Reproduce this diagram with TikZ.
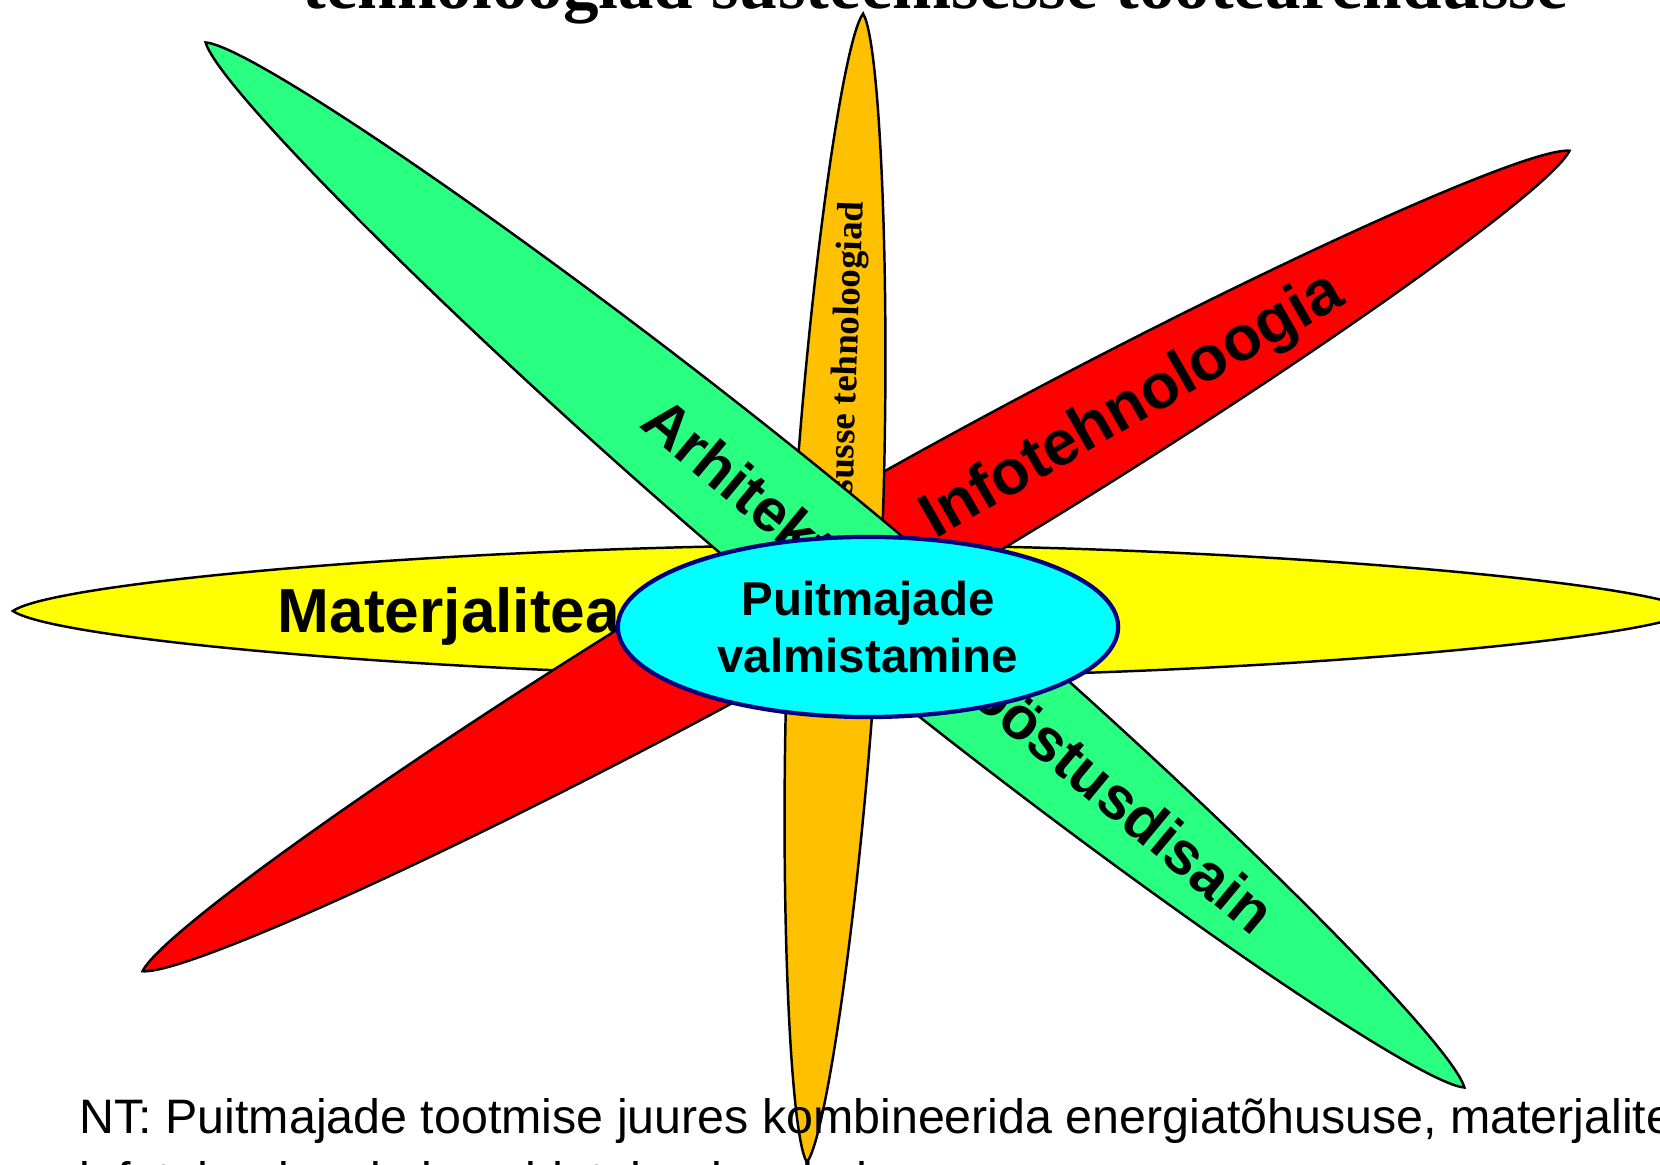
\documentclass[tikz,border=0pt]{standalone}
\usepackage{fontspec}
\setmainfont{Liberation Sans}
\newfontfamily\serifrm{Liberation Serif}
\usetikzlibrary{shapes.geometric}

\definecolor{leafyellow}{RGB}{255,255,0}
\definecolor{leafred}{RGB}{255,0,0}
\definecolor{leafgreen}{RGB}{41,255,128}
\definecolor{leaforange}{RGB}{255,192,0}
\definecolor{hubcyan}{RGB}{0,255,255}
\definecolor{hubnavy}{RGB}{0,0,128}

\tikzset{
  leaf/.style={draw=black,line width=0.7pt},
  leaflabel/.style={inner sep=0pt,font=\fontsize{17.7}{20}\selectfont\bfseries},
  hub/.style={ellipse,draw=hubnavy,line width=1.2pt,fill=hubcyan,inner sep=0pt,
    minimum width=5cm,minimum height=1.8cm,align=center,
    font=\fontsize{13.5}{16.2}\selectfont\bfseries},
  note/.style={inner sep=0pt,anchor=base west,font=\fontsize{13.75}{16}\selectfont}
}

% lens shaped leaf: half length, half width, fill
\newcommand{\leaf}[3]{%
  \filldraw[leaf,fill=#3] (-#1,0) .. controls ({-0.95*#1},{0.45*#2}) and ({-0.45*#1},#2) .. (0,#2)
    .. controls ({0.45*#1},#2) and ({0.95*#1},{0.45*#2}) .. (#1,0)
    .. controls ({0.95*#1},{-0.45*#2}) and ({0.45*#1},-#2) .. (0,-#2)
    .. controls ({-0.45*#1},-#2) and ({-0.95*#1},{-0.45*#2}) .. (-#1,0) -- cycle;}

\begin{document}
\begin{tikzpicture}[x=0.01cm,y=-0.01cm]
  \clip (0,0) rectangle (1660,1165);
  % yellow
  \begin{scope}[shift={(853,611)}] \leaf{840}{66}{leafyellow} \end{scope}
  \node[leaflabel,anchor=base west] (mat) at (277,633) {Materjaliteadus};
  % red
  \begin{scope}[shift={(856,561)},rotate=29.9] \leaf{823}{64}{leafred} \end{scope}
  \node[leaflabel,anchor=base west,rotate=29.9,font=\fontsize{18}{20}\selectfont\bfseries]
    (info) at (935,540) {Infotehnoloogia};
  % orange
  \begin{scope}[shift={(835,588)},rotate=87.2] \leaf{575}{45}{leaforange} \end{scope}
  \node[rotate=88,anchor=east,inner sep=0pt,font=\serifrm\fontsize{10.5}{12}\selectfont\bfseries]
    (energy) at (854,201) {Energiatõhususse tehnoloogiad};
  % green
  \begin{scope}[shift={(835,565)},rotate=-39.7] \leaf{818}{65}{leafgreen} \end{scope}
  \node[leaflabel,anchor=base east,rotate=-39.7,font=\fontsize{17.1}{20}\selectfont\bfseries]
    (arch) at (1253,937) {Arhitektuur ja tööstusdisain};
  % centre
  \node[hub] (hub) at (868,627) {Puitmajade\\valmistamine};
  % texts
  \node[anchor=base west,inner sep=0pt,font=\serifrm\fontsize{20.2}{24}\selectfont\bfseries]
    (title) at (302,9) {tehnoloogiad süsteemsesse tootearendusse};
  \node[note] (nt1) at (79,1134) {NT: Puitmajade tootmise juures kombineerida energiatõhususe, materjaliteaduse,};
  \node[note] (nt2) at (79,1197) {infotehnoloogia ja puidutehnoloogiad.};
\end{tikzpicture}
\end{document}
